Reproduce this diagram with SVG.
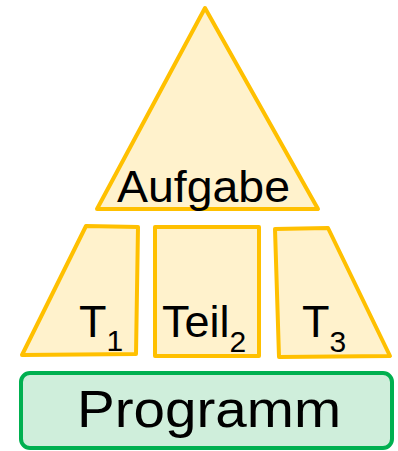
<svg xmlns="http://www.w3.org/2000/svg" width="398" height="451" viewBox="0 0 398 451">
  <style>
    .part { fill: #fff2cc; stroke: #ffc000; stroke-width: 4; stroke-linejoin: round; }
    .base { fill: #cfeedb; stroke: #00b050; stroke-width: 4; }
    .lbl { font-family: "Liberation Sans", Arial, sans-serif; fill: #000; }
    .sub { font-size: 30px; }
  </style>
  <rect width="398" height="451" fill="#fff"/>
  <g id="aufgabe">
    <polygon class="part" points="205,8 318,209 97,209"/>
    <text class="lbl" x="117" y="202" font-size="45" textLength="173" lengthAdjust="spacingAndGlyphs">Aufgabe</text>
  </g>
  <g id="t1">
    <polygon class="part" points="86,226 138,227 136,354 22,355"/>
    <text class="lbl" x="79" y="337" font-size="45">T<tspan class="sub" dy="14">1</tspan></text>
  </g>
  <g id="teil2">
    <rect class="part" x="155" y="227" width="104" height="129"/>
    <text class="lbl" x="162" y="337" font-size="45">Teil<tspan class="sub" dy="15">2</tspan></text>
  </g>
  <g id="t3">
    <polygon class="part" points="275,229 328,228 390,356 279,357"/>
    <text class="lbl" x="302" y="337" font-size="45">T<tspan class="sub" dy="15">3</tspan></text>
  </g>
  <g id="programm">
    <rect class="base" x="21" y="373" width="371" height="75" rx="9"/>
    <text class="lbl" x="77" y="427" font-size="52" textLength="264" lengthAdjust="spacingAndGlyphs">Programm</text>
  </g>
  <g id="connectors"/>
</svg>
